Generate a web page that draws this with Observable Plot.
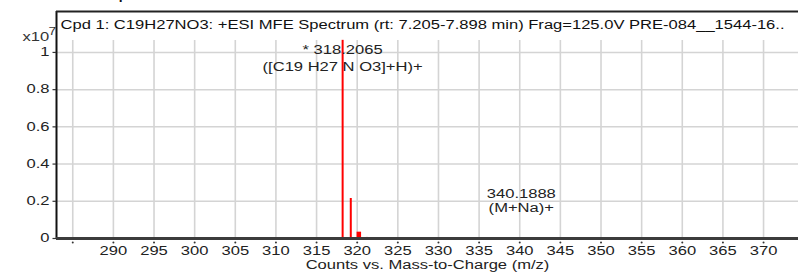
<!DOCTYPE html>
<html>
<head>
<meta charset="utf-8">
<script src="https://cdn.jsdelivr.net/npm/d3@7"></script>
<script src="https://cdn.jsdelivr.net/npm/@observablehq/plot@0.6"></script>
<style>
  html, body { margin: 0; padding: 0; background: #fff; }
  #chart svg { display: block; font-family: "Liberation Sans", Arial, sans-serif; }
</style>
</head>
<body>
<div id="chart"></div>
<script>
// ---- data ----
const headerTitle = "MFE MS Zoomed Spectrum";
const plotTitle = "Cpd 1: C19H27NO3: +ESI MFE Spectrum (rt: 7.205-7.898 min) Frag=125.0V PRE-084__1544-16..";
const xAxisLabel = "Counts vs. Mass-to-Charge (m/z)";
const yScaleLabel = "x10";
const yScaleExponent = "7";

const peakMz = [318.2065, 319.21, 320.2, 321.2];
const peakIntensity = [1.065, 0.215, 0.034, 0.006]; // x10^7 counts

const annotationMz = [318.2065, 340.1888];
const annotationText = ["* 318.2065\n([C19 H27 N O3]+H)+", "340.1888\n(M+Na)+"];

const xTicks = [285, 290, 295, 300, 305, 310, 315, 320, 325, 330, 335, 340, 345, 350, 355, 360, 365, 370];
const xTickLabels = ["", "290", "295", "300", "305", "310", "315", "320", "325", "330", "335", "340", "345", "350", "355", "360", "365", "370"];
const yTicks = [0, 0.2, 0.4, 0.6, 0.8, 1];
const yTickLabels = ["0", "0.2", "0.4", "0.6", "0.8", "1"];

const xDomain = [283, 374.3];
const yDomain = [0, 1.22];

// ---- build ----
const peaks = peakMz.map((mz, i) => ({mz, intensity: peakIntensity[i]}));
const mainPeak = peaks[0];
const xTickData = xTicks.map((v, i) => ({v, label: xTickLabels[i]}));
const yTickData = yTicks.map((v, i) => ({v, label: yTickLabels[i]}));

const chart = Plot.plot({
  width: 798,
  height: 275,
  marginLeft: 56,
  marginRight: 0,
  marginTop: 11,
  marginBottom: 37,
  style: {fontFamily: "'Liberation Sans', Arial, sans-serif", background: "#fff"},
  x: {domain: xDomain, axis: null},
  y: {domain: yDomain, axis: null},
  marks: [
    // grid (vertical lines stop just below the title line)
    Plot.ruleX(xTicks, {x: d => d, insetTop: 29, stroke: "#d4d4d4", strokeWidth: 1.6}),
    Plot.ruleY(yTicks.filter(d => d > 0), {y: d => d, stroke: "#d4d4d4", strokeWidth: 1.5}),
    // peaks
    Plot.ruleX(peaks, {
      x: "mz", y1: 0, y2: "intensity", stroke: "#ff0000",
      strokeWidth: d => (d.intensity < 0.01 ? 1 : d.intensity < 0.1 ? 4.5 : 2)
    }),
    // frame: left and top borders
    Plot.ruleX([xDomain[0]], {x: d => d, stroke: "#111", strokeWidth: 2}),
    Plot.ruleY([yDomain[1]], {y: d => d, stroke: "#222", strokeWidth: 2}),
    // x axis line
    Plot.ruleY([0], {y: d => d, stroke: "#3c3c3c", strokeWidth: 3}),
    // x tick marks (small) and labels
    Plot.dot(xTicks, {x: d => d, frameAnchor: "bottom", dy: 4, r: 1, fill: "#333", stroke: null}),
    Plot.text(xTickData, {x: "v", text: "label", frameAnchor: "bottom", dy: 16, fontSize: 12, fill: "#222"}),
    Plot.text([xAxisLabel], {text: d => d, frameAnchor: "bottom", dy: 30, fontSize: 12, fill: "#222"}),
    // y ticks and labels
    Plot.ruleY(yTicks, {y: d => d, x1: xDomain[0], x2: xDomain[0] + 0.45, dx: -3.5, stroke: "#333", strokeWidth: 1.2}),
    Plot.text(yTickData, {y: "v", text: "label", frameAnchor: "left", dx: -7, textAnchor: "end", fontSize: 12, fill: "#222"}),
    Plot.text([yScaleLabel], {text: d => d, frameAnchor: "top-left", dx: -34, dy: 21, fontSize: 12, fill: "#333"}),
    Plot.text([yScaleExponent], {text: d => d, frameAnchor: "top-left", dx: -8, dy: 16, fontSize: 10, fill: "#333"}),
    // titles
    Plot.text([plotTitle], {text: d => d, frameAnchor: "top-left", dx: 4, dy: 14, textAnchor: "start", lineAnchor: "middle", fontSize: 12, fill: "#111"}),
    Plot.text([headerTitle], {text: d => d, frameAnchor: "top-left", dx: -62, dy: -12, textAnchor: "start", lineAnchor: "bottom", fontSize: 10, fontWeight: "bold", fill: "#111"}),
    // annotations
    Plot.text([0], {x: i => annotationMz[i], y: () => mainPeak.intensity, text: i => annotationText[i], dy: 17, lineAnchor: "middle", lineHeight: 1.4, fontSize: 12, fill: "#222"}),
    Plot.text([1], {x: i => annotationMz[i], y: () => 0.204, text: i => annotationText[i], lineAnchor: "middle", lineHeight: 1.2, fontSize: 12, fill: "#222"})
  ]
});
document.getElementById("chart").appendChild(chart);

// The reference's lettering is horizontally stretched: widen each text about its own anchor point.
const STRETCH = 1.38;
chart.querySelectorAll("text").forEach(t => {
  let x = parseFloat(t.getAttribute("x"));
  if (!isFinite(x)) x = 0;
  const T = t.getAttribute("transform") || "";
  t.setAttribute("transform", `${T} translate(${x},0) scale(${STRETCH},1) translate(${-x},0)`.trim());
});
</script>
</body>
</html>
